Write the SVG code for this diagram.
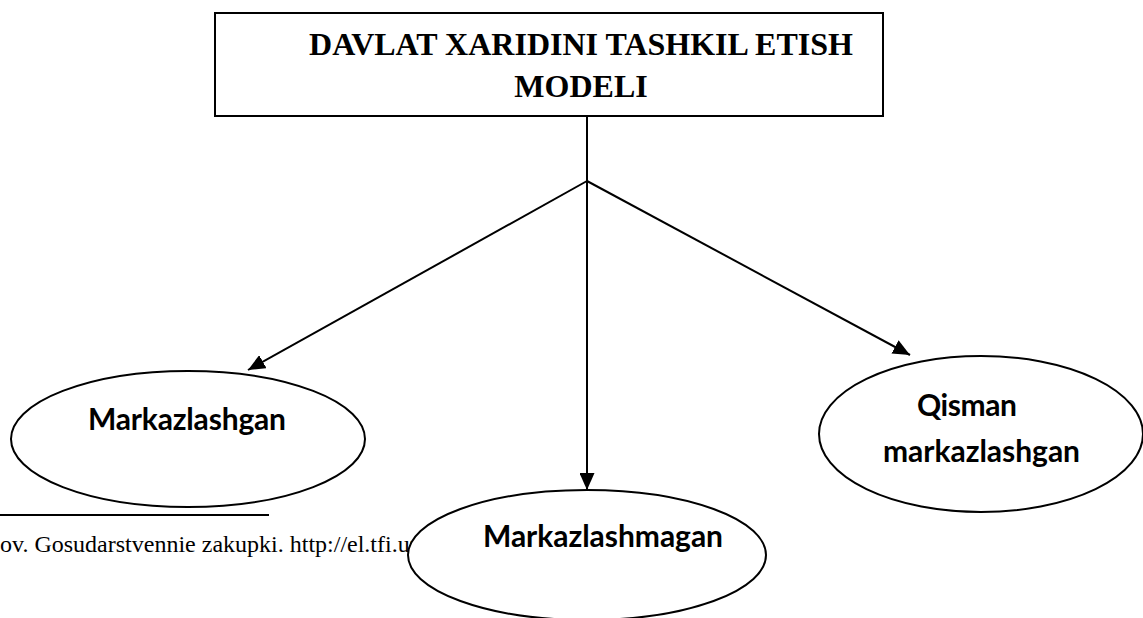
<svg xmlns="http://www.w3.org/2000/svg" width="1143" height="618" viewBox="0 0 1143 618">
<defs>
<style>
.title{font-family:"Liberation Serif","Times New Roman",serif;font-weight:bold;font-size:32px;fill:#000}
.lbl{font-family:Lato,"Open Sans","Liberation Sans",sans-serif;font-weight:bold;font-size:30px;fill:#000}
.foot{font-family:"Liberation Serif","Times New Roman",serif;font-size:24px;fill:#000}
.shape{fill:#fff;stroke:#000;stroke-width:2}
.conn{stroke:#000;stroke-width:2;fill:none}
</style>
<marker id="arr" viewBox="0 0 17 15" refX="17" refY="7.5" markerWidth="17" markerHeight="15" markerUnits="userSpaceOnUse" orient="auto">
<path d="M0,0 L17,7.5 L0,15 z" fill="#000"/>
</marker>
</defs>
<rect width="1143" height="618" fill="#fff"/>
<g id="footnote">
<line x1="0" y1="515" x2="269" y2="515" stroke="#000" stroke-width="2"/>
<text class="foot" x="0" y="552">ov. Gosudarstvennie zakupki. http://el.tfi.uz</text>
</g>
<g id="node-model">
<rect class="shape" x="215" y="13" width="668" height="103"/>
<text class="title" x="581" y="55" text-anchor="middle">DAVLAT XARIDINI TASHKIL ETISH</text>
<text class="title" x="581" y="97" text-anchor="middle">MODELI</text>
</g>
<g id="connectors">
<line class="conn" x1="587" y1="116" x2="587" y2="181"/>
<line class="conn" x1="587" y1="181" x2="248" y2="370" marker-end="url(#arr)"/>
<line class="conn" x1="587" y1="181" x2="587" y2="490" marker-end="url(#arr)"/>
<line class="conn" x1="587" y1="181" x2="910" y2="355" marker-end="url(#arr)"/>
</g>
<g id="node-markazlashgan">
<ellipse class="shape" cx="188" cy="439" rx="177" ry="68"/>
<text class="lbl" x="187" y="430" text-anchor="middle" textLength="198">Markazlashgan</text>
</g>
<g id="node-markazlashmagan">
<ellipse class="shape" cx="587" cy="555" rx="179" ry="65"/>
<text class="lbl" x="603" y="547" text-anchor="middle" textLength="240">Markazlashmagan</text>
</g>
<g id="node-qisman">
<ellipse class="shape" cx="981" cy="434" rx="162" ry="78"/>
<text class="lbl" x="917" y="416" textLength="100">Qisman</text>
<text class="lbl" x="883" y="462" textLength="197">markazlashgan</text>
</g>
</svg>
